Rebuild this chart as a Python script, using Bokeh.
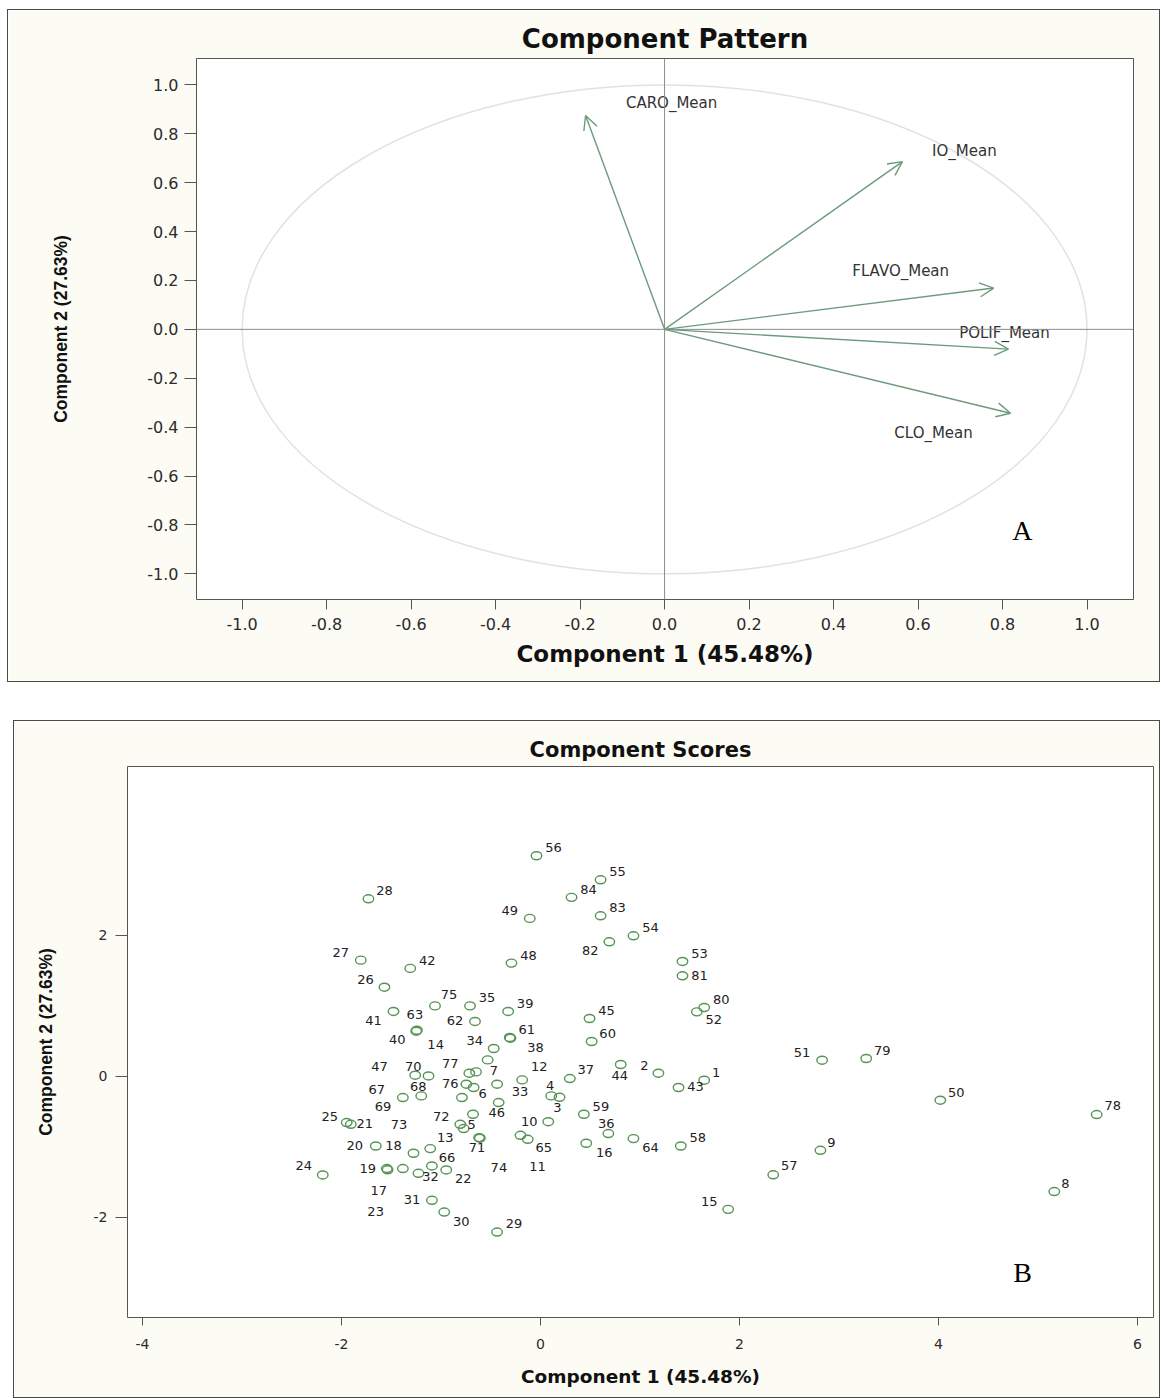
from bokeh.plotting import figure
from bokeh.models import (Arrow, OpenHead, Span, Range1d, FixedTicker,
                          PrintfTickFormatter, ColumnDataSource, Label)
from bokeh.embed import file_html
from bokeh.resources import INLINE
from bokeh.core.properties import value

# ---------------- data ----------------
# Component pattern: loadings of each variable on components 1 and 2
variables = ["CARO_Mean", "IO_Mean", "FLAVO_Mean", "POLIF_Mean", "CLO_Mean"]
load_c1 = [-0.187, 0.563, 0.779, 0.814, 0.819]
load_c2 = [0.875, 0.686, 0.169, -0.081, -0.343]
pattern_ticks = [-1.0, -0.8, -0.6, -0.4, -0.2, 0.0, 0.2, 0.4, 0.6, 0.8, 1.0]

# Component scores of the 84 observations (observation 1 .. 84)
obs_ids = [str(i) for i in range(1, 85)]
score_c1 = [1.645, 1.185, 0.191, 0.108, -0.772, -0.672, -0.648, 5.163, 2.813, 0.078,
            -0.201, -0.184, -1.108, -0.531, 1.886, 0.460, -1.383, -1.276, -1.544, -1.655,
            -1.906, -0.947, -1.536, -2.188, -1.947, -1.568, -1.806, -1.729, -0.436, -0.967,
            -1.091, -1.226, -0.436, -0.470, -0.708, 0.682, 0.295, -0.302, -0.325, -1.249,
            -1.477, -1.309, 1.387, 0.806, 0.493, -0.420, -1.125, -0.292, -0.108, 4.018,
            2.830, 1.571, 1.427, 0.934, 0.604, -0.040, 2.339, 1.410, 0.436, 0.514,
            -0.309, -0.658, -1.242, 0.934, -0.128, -1.091, -1.383, -1.198, -0.789, -1.259,
            -0.617, -0.806, -0.678, -0.609, -1.060, -0.745, -0.715, 5.589, 3.273, 1.645,
            1.427, 0.692, 0.604, 0.312]
score_c2 = [-0.057, 0.043, -0.298, -0.279, -0.742, -0.160, 0.061, -1.635, -1.050, -0.645,
            -0.837, -0.052, -1.026, 0.231, -1.887, -0.950, -1.309, -1.092, -1.309, -0.989,
            -0.681, -1.329, -1.326, -1.400, -0.657, 1.262, 1.645, 2.515, -2.209, -1.925,
            -1.759, -1.376, -0.113, 0.393, 0.997, -0.813, -0.033, 0.539, 0.918, 0.638,
            0.918, 1.528, -0.160, 0.166, 0.818, -0.373, 0.004, 1.603, 2.237, -0.340,
            0.227, 0.912, 1.627, 1.990, 2.784, 3.125, -1.397, -0.989, -0.539, 0.492,
            0.549, 0.776, 0.652, -0.884, -0.894, -1.272, -0.302, -0.279, -0.302, 0.014,
            -0.870, -0.681, -0.539, -0.879, 0.997, -0.113, 0.043, -0.543, 0.251, 0.974,
            1.423, 1.905, 2.274, 2.535]
score_xticks = [-4, -2, 0, 2, 4, 6]
score_yticks = [-2, 0, 2]

# ---------------- label placement (screen pixels, from each point) ----------------
pattern_label_dx = [86, 62, -93, -4, -77]
pattern_label_dy = [-12, -11, -17, -16, 20]

score_label_dx = [12, -14, -2, -1, 8, 9, 18, 11, 11, -19,
                  17, 17, 15, -52, -19, 18, -24, -20, -19, -21,
                  14, 17, -12, -19, -17, -19, -20, 16, 17, 17,
                  -20, 12, 23, -19, 17, -2, 16, 25, 17, -19,
                  -20, 17, 17, -1, 17, -2, -49, 17, -20, 16,
                  -20, 17, 17, 17, 17, 17, 16, 17, 17, 16,
                  17, -20, -2, 17, 16, 15, -26, -3, -79, -2,
                  -2, -19, -74, 19, 14, -16, -19, 16, 16, 17,
                  17, -19, 17, 17]
score_label_dy = [-8, -8, 10, -10, -4, 6, -1, -8, -8, 0,
                  31, -13, -11, -15, -8, 9, 22, -8, 0, 0,
                  -1, 9, 42, -9, -6, -8, -8, -8, -9, 9,
                  -1, 3, 7, -8, -8, -10, -9, 9, -8, 8,
                  9, -8, -1, 11, -8, 10, -9, -8, -8, -8,
                  -8, 8, -8, -8, -8, -8, -9, -8, -8, -8,
                  -8, -1, -16, 9, 8, -8, -8, -9, 9, -9,
                  10, -8, 10, 29, -11, -1, -10, -9, -8, -8,
                  0, 9, -8, -8]

# ---------------- styles ----------------
PANEL_BG = "#fcfcf5"
FRAME = "#555555"
ARROW = "#6b9b7b"
MARKER = "#569456"
TEXT = "#2b2b2b"
WIDE = "DejaVu Sans"
YLAB = "Liberation Sans"


def style_axes(p, tick_size, xlab_size, tick_x, tick_y, std_x, std_y,
               lab_std_x, lab_std_y):
    p.grid.visible = False
    for ax in (p.xaxis[0], p.yaxis[0]):
        ax.axis_line_color = None
        ax.major_tick_in = 0
        ax.minor_tick_line_color = None
        ax.major_tick_line_color = FRAME
        ax.major_label_text_font = WIDE
        ax.major_label_text_font_size = tick_size
        ax.major_label_text_color = TEXT
        ax.axis_label_text_font_style = "bold"
        ax.axis_label_text_color = "#111111"
    p.xaxis[0].major_tick_out = tick_x
    p.yaxis[0].major_tick_out = tick_y
    p.xaxis[0].major_label_standoff = std_x
    p.yaxis[0].major_label_standoff = std_y
    p.xaxis[0].axis_label_standoff = lab_std_x
    p.yaxis[0].axis_label_standoff = lab_std_y
    p.xaxis[0].axis_label_text_font = WIDE
    p.xaxis[0].axis_label_text_font_size = xlab_size
    p.yaxis[0].axis_label_text_font = YLAB
    p.yaxis[0].axis_label_text_font_size = "17.5px"


# ---------------- panel A: component pattern ----------------
pat = figure(width=1151, height=671,
             x_range=Range1d(-1.108, 1.11), y_range=Range1d(-1.105, 1.108),
             output_backend="svg", toolbar_location=None,
             min_border_left=188, min_border_right=26,
             min_border_top=48, min_border_bottom=82,
             background_fill_color="white", border_fill_color=PANEL_BG,
             outline_line_color=FRAME, outline_line_width=1,
             title="Component Pattern",
             x_axis_label="Component 1 (45.48%)",
             y_axis_label="Component 2 (27.63%)")
pat.title.align = "center"
pat.title.text_font = WIDE
pat.title.text_font_size = "26px"
pat.title.text_font_style = "bold"
pat.title.text_color = "#111111"
pat.title.standoff = 9
pat.margin = (10, 0, 0, 8)
pat.styles = {"outline": "1.5px solid #4a4a4a"}

pat.xaxis.ticker = FixedTicker(ticks=pattern_ticks)
pat.yaxis.ticker = FixedTicker(ticks=pattern_ticks)
pat.xaxis.formatter = PrintfTickFormatter(format="%.1f")
pat.yaxis.formatter = PrintfTickFormatter(format="%.1f")
style_axes(pat, "16px", "23px", 10, 12, 8, 6, 8, 73)

pat.add_layout(Span(location=0, dimension="height", line_color="#8c8c8c", line_width=1))
pat.add_layout(Span(location=0, dimension="width", line_color="#8c8c8c", line_width=1))

# unit circle of the correlation plot
pat.ellipse(x=0, y=0, width=2, height=2, fill_color=None,
            line_color="#e2e2e2", line_width=1.5)

for x_end, y_end in zip(load_c1, load_c2):
    pat.add_layout(Arrow(end=OpenHead(size=14, line_color=ARROW, line_width=1.4),
                         x_start=0, y_start=0, x_end=x_end, y_end=y_end,
                         line_color=ARROW, line_width=1.4))

pat.text(x=load_c1, y=load_c2, text=variables,
         x_offset=pattern_label_dx, y_offset=pattern_label_dy,
         text_align="center", text_baseline="middle",
         text_font=value(WIDE), text_font_size="15px", text_color="#333333")

pat.add_layout(Label(x=0.847, y=-0.824, text="A", text_font="Liberation Serif",
                     text_font_size="28px", text_align="center",
                     text_baseline="middle", text_color="#000000"))

# ---------------- panel B: component scores ----------------
sc = figure(width=1145, height=676,
            x_range=Range1d(-4.15, 6.16), y_range=Range1d(-3.42, 4.39),
            output_backend="svg", toolbar_location=None,
            min_border_left=113, min_border_right=6,
            min_border_top=45, min_border_bottom=80,
            background_fill_color="white", border_fill_color=PANEL_BG,
            outline_line_color=FRAME, outline_line_width=1,
            title="Component Scores",
            x_axis_label="Component 1 (45.48%)",
            y_axis_label="Component 2 (27.63%)")
sc.title.align = "center"
sc.title.text_font = WIDE
sc.title.text_font_size = "21px"
sc.title.text_font_style = "bold"
sc.title.text_color = "#111111"
sc.title.standoff = 9
sc.margin = (40, 0, 0, 14)
sc.styles = {"outline": "1.5px solid #4a4a4a"}

sc.xaxis.ticker = FixedTicker(ticks=score_xticks)
sc.yaxis.ticker = FixedTicker(ticks=score_yticks)
sc.xaxis.formatter = PrintfTickFormatter(format="%d")
sc.yaxis.formatter = PrintfTickFormatter(format="%d")
style_axes(sc, "14px", "18.5px", 8, 12, 13, 8, 14, 35)

src = ColumnDataSource(dict(x=score_c1, y=score_c2, label=obs_ids,
                            dx=score_label_dx, dy=score_label_dy))
sc.ellipse(x="x", y="y", width=10.5, height=8,
           width_units="screen", height_units="screen",
           fill_color=None, line_color=MARKER, line_width=1.4, source=src)
sc.text(x="x", y="y", text="label", x_offset="dx", y_offset="dy",
        text_align="center", text_baseline="middle",
        text_font=value(WIDE), text_font_size="13px", text_color="#222222",
        source=src)

sc.add_layout(Label(x=4.844, y=-2.782, text="B", text_font="Liberation Serif",
                    text_font_size="28px", text_align="center",
                    text_baseline="middle", text_color="#000000"))

# two independent panels, stacked on the page
open("out.html", "w").write(file_html([pat, sc], INLINE))
